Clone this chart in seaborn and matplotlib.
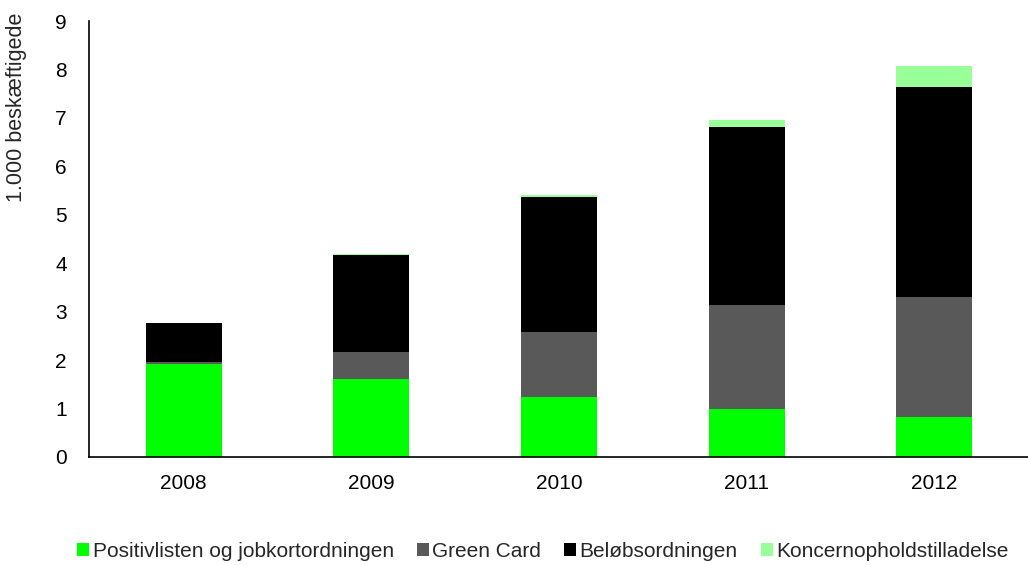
import numpy as np
import pandas as pd
import matplotlib
matplotlib.use("Agg")
import matplotlib.pyplot as plt
import seaborn as sns
from matplotlib.patches import Patch

years = ["2008", "2009", "2010", "2011", "2012"]
positivlisten = [1.92, 1.61, 1.245, 0.99, 0.83]
green_card = [0.05, 0.56, 1.33, 2.15, 2.47]
beloeb = [0.79, 2.00, 2.80, 3.68, 4.33]
koncern = [0.0, 0.02, 0.04, 0.14, 0.44]

series_names = ["Positivlisten og jobkortordningen", "Green Card",
                "Beløbsordningen", "Koncernopholdstilladelse"]
colors = ["#00FF00", "#595959", "#000000", "#99FF99"]

sns.set_style("white")
plt.rcParams["font.family"] = ["Liberation Sans", "DejaVu Sans"]

df = pd.DataFrame({"year": years,
                   series_names[0]: positivlisten,
                   series_names[1]: green_card,
                   series_names[2]: beloeb,
                   series_names[3]: koncern})

# cumulative tops, drawn tallest first so the lower layers sit on top
cum = df[series_names].cumsum(axis=1)

fig = plt.figure(figsize=(10.28, 5.65), dpi=100)
ax = fig.add_axes([0.0866, 0.1912, 0.9134, 0.7716])

for name, col in reversed(list(zip(series_names, colors))):
    sns.barplot(x=df["year"], y=cum[name], color=col, width=0.405,
                saturation=1, ax=ax, linewidth=0)

ax.set_ylim(0, 9)
ax.set_xlim(-0.505, 4.5)
ax.set_yticks(range(0, 10))
ax.set_xlabel("")
ax.set_ylabel("1.000 beskæftigede", fontsize=15.5, loc="top")
ax.yaxis.set_label_coords(-0.066, 1.02)
ax.tick_params(axis="both", length=0, labelsize=15, colors="black")
ax.tick_params(axis="x", pad=12)
ax.tick_params(axis="y", pad=16)

for s in ["top", "right"]:
    ax.spines[s].set_visible(False)
for s in ["left", "bottom"]:
    ax.spines[s].set_color("black")
    ax.spines[s].set_linewidth(1.2)

handles = [Patch(facecolor=c, edgecolor="none", label=n) for n, c in zip(series_names, colors)]
fig.legend(handles=handles, loc="center", bbox_to_anchor=(0.528, 0.024),
           ncol=4, frameon=False, fontsize=15, handlelength=0.6, handleheight=0.6,
           handletextpad=0.15, columnspacing=1.1)

fig.savefig("out.png", dpi=100)
